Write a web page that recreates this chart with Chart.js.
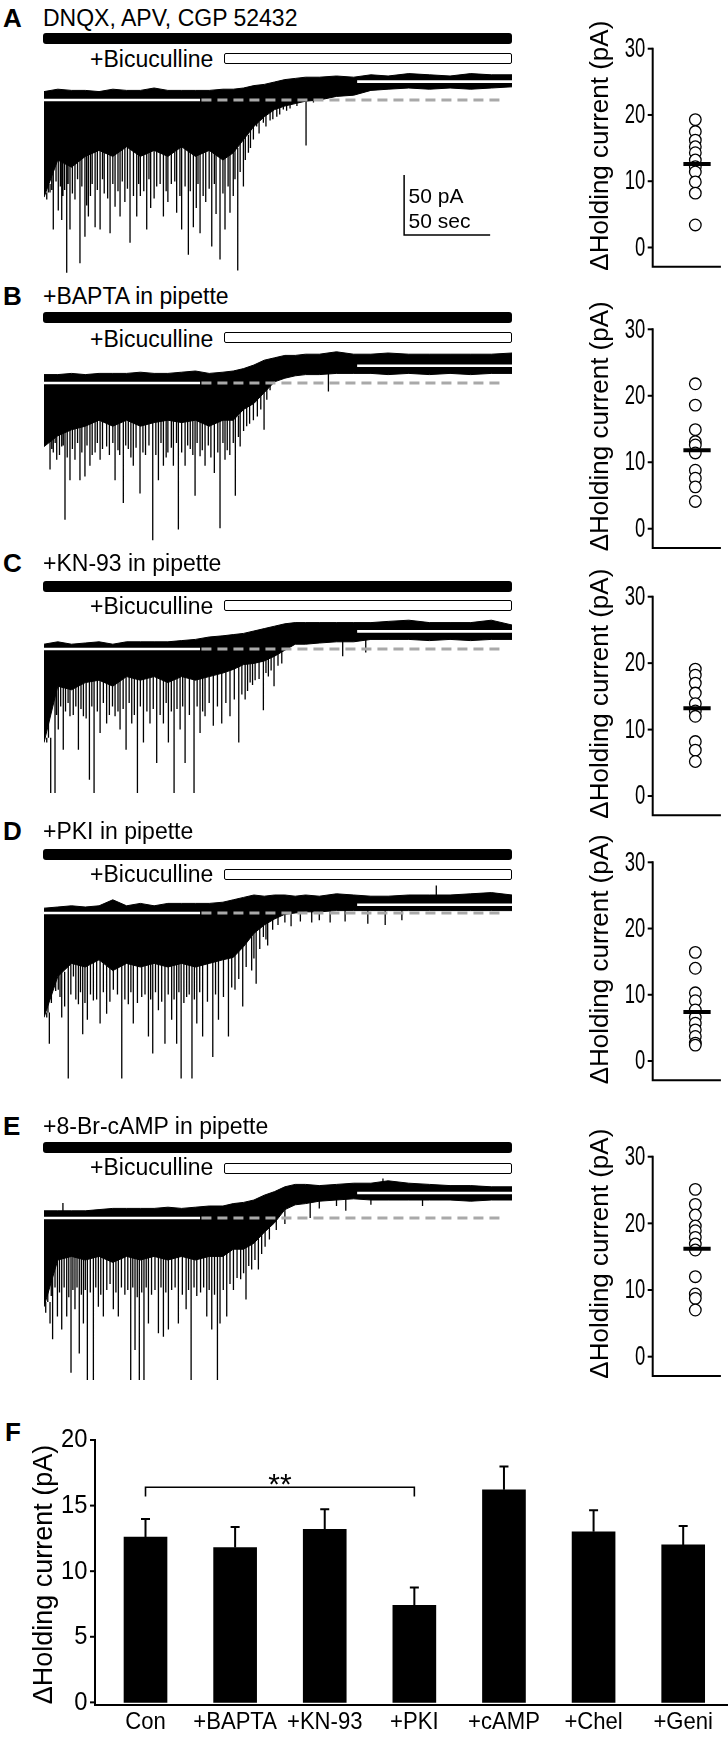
<!DOCTYPE html>
<html><head><meta charset="utf-8">
<script src="https://cdn.jsdelivr.net/npm/chart.js@4.4.1/dist/chart.umd.min.js"></script>
<style>
html,body{margin:0;padding:0;background:#fff;}
body{width:728px;height:1741px;position:relative;overflow:hidden;font-family:"Liberation Sans",Arial,Helvetica,sans-serif;}
.txt{position:absolute;white-space:nowrap;line-height:1;color:#000;}
.bar{position:absolute;box-sizing:border-box;}
canvas{position:absolute;}
</style></head><body>
<script>
// ---------------- DATA ----------------
// time grid (s) for the envelope of each current trace
const traceTime = [0,8,16,24,32,40,48,56,64,72,80,88,96,104,110,116,122,128,134,140,146,152,160,170,180,190,200,212,224,236,248,260,272];
// upper / lower envelope of the dense trace (pA, relative to initial holding current)
const topA = [7,9,8,8,7,9,8,8,10,8,8,8,8,9,9,10,12,13,15,17,18,19,19,20,19,21,20,22,21,20,22,21,21];
const lowA = [-81,-50,-56,-47,-42,-47,-39,-47,-42,-47,-39,-47,-42,-50,-44,-33,-22,-14,-8,-5,-3,-1,0,3,4,8,9,10,9,10,9,10,11];
const topB = [7,7,8,7,8,8,8,9,8,8,9,10,8,9,10,12,15,19,21,23,23,24,24,26,24,24,25,24,24,24,24,24,25];
const lowB = [-53,-44,-39,-36,-31,-36,-31,-36,-33,-31,-33,-31,-36,-31,-31,-22,-17,-8,1,4,6,7,7,8,8,8,7,8,7,8,7,8,8];
const topC = [4,6,4,5,6,4,6,6,6,6,7,8,10,11,12,13,15,17,19,21,22,22,22,22,22,22,23,24,22,22,22,24,20];
const lowC = [-78,-31,-34,-28,-26,-31,-23,-26,-23,-28,-23,-26,-23,-20,-17,-13,-12,-10,-6,-1,4,4,5,6,6,8,8,8,7,8,7,8,8];
const topD = [4,5,6,5,6,11,6,8,6,8,8,8,8,9,11,13,15,14,15,15,14,15,14,16,15,14,14,15,15,15,16,17,15];
const lowD = [-87,-53,-42,-45,-39,-48,-42,-45,-42,-45,-42,-45,-42,-39,-37,-28,-17,-10,-5,-1,0,1,1,2,2,2,2,2,2,2,2,2,2];
const topE = [6,6,6,6,7,8,8,8,8,9,8,9,10,10,12,13,15,19,22,26,28,28,27,28,29,29,31,29,28,27,27,26,26];
const lowE = [-74,-35,-32,-35,-32,-37,-32,-35,-32,-35,-32,-35,-32,-32,-26,-26,-21,-12,-4,7,11,12,14,15,16,15,15,15,15,15,14,15,15];
// individual events [time s, peak pA]
const spikesA = [[1.6,-83],[2.5,-65],[3.5,-70],[4.5,-75],[5.4,-108],[7,-68],[8.3,-92],[9.5,-72],[10.3,-100],[11,-80],[12,-75],[13.2,-144],[14,-70],[15.1,-108],[16.5,-78],[18,-83],[19.5,-66],[20.9,-136],[22,-72],[23.8,-114],[24.8,-88],[25.8,-97],[27,-80],[28,-70],[29.7,-106],[31,-75],[32.6,-108],[34,-66],[35,-78],[37,-82],[38.4,-111],[40,-70],[41.3,-89],[43,-76],[44.2,-97],[45.5,-68],[47,-85],[48.5,-74],[50,-119],[52,-80],[53.9,-97],[55,-70],[56,-80],[58,-76],[59.7,-108],[61,-66],[62,-90],[64,-82],[65.5,-72],[67.5,-70],[69.4,-97],[71,-76],[72,-85],[74,-70],[76,-68],[77.1,-94],[79,-80],[80,-108],[82,-72],[83.9,-129],[85,-76],[86.8,-106],[88.5,-90],[89.5,-70],[90.7,-111],[92.5,-80],[94,-85],[96,-74],[97.5,-122],[99,-70],[100,-95],[102.3,-133],[104,-78],[105.2,-108],[107,-72],[108.1,-94],[110,-80],[111,-66],[112.6,-142],[114,-60],[115.9,-72],[117,-50],[118.8,-44],[120,-40],[121.7,-33],[123.6,-22],[125,-28],[127.5,-19],[129,-22],[131.4,-17],[133,-16],[135.3,-14],[137,-12],[139.1,-8],[141,-9],[143,-7],[147,-5],[152.3,-38],[156.6,-2]];
const spikesB = [[1.6,-50],[2.5,-48],[3.5,-72],[4.5,-55],[5.4,-58],[6.5,-50],[7.4,-64],[9,-60],[10.3,-53],[11.2,-52],[12.2,-114],[13.5,-62],[15.1,-81],[16.5,-55],[18,-64],[19.5,-50],[20.9,-81],[22,-58],[23.8,-78],[25,-52],[26.7,-69],[28,-60],[29.7,-58],[31,-50],[32.6,-64],[34,-55],[36.4,-53],[38,-60],[40,-50],[41.3,-81],[43,-56],[44,-60],[46.1,-100],[47.5,-52],[49,-55],[50.5,-62],[51.9,-69],[53.5,-54],[55.8,-92],[57.5,-58],[59,-60],[61,-52],[63.2,-131],[65,-60],[66.5,-81],[68,-50],[69.4,-69],[71,-62],[72,-58],[74,-54],[75.2,-69],[77,-50],[78.1,-122],[80,-58],[82,-69],[83.5,-52],[85,-55],[86.5,-60],[87.8,-94],[89,-50],[90.7,-61],[92,-56],[93.6,-69],[95.5,-52],[97,-62],[99,-75],[101,-58],[102.3,-121],[104,-50],[105.2,-64],[106.5,-56],[108,-60],[110,-50],[111.2,-94],[113,-45],[114,-53],[116,-40],[117.8,-36],[119.5,-34],[121.7,-31],[124,-28],[126,-22],[127.9,-39],[129.5,-14],[131.4,-6],[165.3,-7]];
const spikesC = [[1.6,-78],[2.6,-50],[3.9,-120],[5,-45],[6.4,-120],[7.3,-55],[8.3,-67],[9.7,-48],[11.2,-84],[12.5,-52],[14,-45],[15.1,-56],[17,-55],[18.5,-48],[20,-84],[21.5,-50],[22.9,-56],[24.5,-58],[26.4,-109],[27.8,-48],[29.1,-120],[31,-52],[32.6,-70],[34.5,-45],[36.4,-62],[38,-55],[39.8,-48],[41.3,-56],[43,-52],[44.2,-67],[46,-50],[47.7,-84],[49.5,-45],[51,-62],[52.5,-55],[54.3,-120],[56,-48],[57.8,-78],[59.8,-52],[61.6,-62],[63.5,-50],[65.5,-95],[67.5,-55],[69.4,-62],[71,-45],[72.3,-78],[74,-52],[75.6,-120],[77.3,-50],[79.1,-67],[80.6,-48],[82,-95],[84.5,-55],[87.2,-120],[89,-48],[90.7,-70],[92.2,-52],[93.6,-56],[96,-45],[98.4,-64],[100.8,-48],[103.3,-62],[105.7,-45],[108.1,-56],[110.6,-42],[113.2,-78],[115,-38],[116.9,-42],[118.3,-35],[119.8,-28],[121.2,-30],[122.7,-26],[125,-25],[127.5,-51],[129,-20],[130.4,-23],[132,-18],[133.7,-31],[136,-14],[138.2,-12],[173.6,-6],[187,-3]];
const spikesD = [[1.6,-87],[2.3,-70],[3.1,-109],[4.3,-75],[5.4,-56],[6.8,-65],[8.3,-64],[9.3,-70],[10.3,-87],[12,-78],[14.1,-138],[15.6,-68],[17.1,-53],[18.5,-72],[20,-76],[21.2,-66],[22.5,-101],[23.8,-75],[25.2,-89],[27,-68],[28.7,-73],[30.6,-72],[32.6,-92],[34.5,-66],[36.4,-84],[38.3,-74],[40.3,-64],[42.7,-68],[45.2,-138],[47,-72],[49,-76],[50.5,-66],[51.9,-92],[54.3,-75],[56.8,-70],[58.7,-68],[60.7,-103],[62,-72],[63.2,-117],[64.8,-66],[66.5,-81],[68.4,-74],[70.3,-109],[72.2,-68],[74.2,-89],[75.6,-72],[77.1,-109],[78.4,-66],[79.7,-138],[81.3,-75],[82.9,-70],[84.4,-68],[86,-138],[87.4,-72],[88.8,-92],[90.5,-66],[92.2,-103],[95,-74],[98.1,-120],[99.7,-68],[101.4,-89],[104.3,-70],[107.2,-103],[109.1,-62],[111,-64],[113.2,-55],[115.5,-78],[117.5,-45],[120.7,-48],[122,-38],[123.3,-59],[125.4,-30],[127.5,-20],[129,-22],[130,-27],[132.9,-14],[136,-10],[140,-8],[143.6,-11],[149,-7],[155.6,-8],[160,-6],[166.3,-8],[175,-7],[188.2,-9],[198.3,-10],[208,-6]];
const spikesE = [[1,-79],[2.2,-60],[3.5,-88],[4.2,-65],[5,-101],[6.4,-58],[7.8,-82],[9,-62],[10.3,-93],[11.7,-58],[13.2,-82],[14.4,-66],[15.7,-129],[16.8,-60],[18,-76],[19.2,-58],[20.5,-113],[21.7,-64],[22.9,-88],[24,-60],[25.2,-135],[26.9,-62],[28.7,-135],[30.1,-58],[31.6,-74],[33,-64],[34.5,-82],[36.5,-60],[38.4,-55],[40.3,-76],[41.8,-62],[43.2,-82],[45,-58],[47,-64],[48.7,-60],[50.4,-135],[51.6,-58],[52.9,-110],[54.2,-66],[55.4,-135],[56.8,-62],[58.1,-135],[59.4,-58],[60.7,-88],[62.5,-64],[64.5,-60],[66.5,-96],[68,-58],[69.4,-99],[70.8,-62],[72.3,-93],[74.2,-60],[76.2,-58],[78.1,-88],[80.4,-64],[82.6,-76],[84,-60],[85.5,-135],[87.2,-58],[88.8,-65],[91,-62],[92.8,-58],[94.6,-82],[96,-60],[97.5,-93],[99.1,-64],[100.8,-135],[102.3,-88],[104.2,-60],[106.2,-82],[108.1,-55],[110.1,-60],[112.2,-50],[114.3,-51],[116,-46],[117.4,-68],[119,-40],[120.7,-43],[122.6,-35],[124.6,-43],[126.5,-30],[128.5,-24],[131,-18],[135,-10],[140,-5],[154.7,0],[160,8],[170,10],[175.4,6],[190,11],[220,10]];
const upSpikesD = [[228,23]];
const upSpikesE = [[11,12.5],[197,33]];
// mean holding current after bicuculline (pA)
const postLevels = [15.3,14.4,14.7,6.9,20.8];
// baseline marker times (s)
const whiteLeftEnd = 90.7, dashStart = 91.5, dashEnd = 266, whiteRightStart = 182;
// scale bar
const scaleBarPA = 50, scaleBarSec = 50;

// scatter values, ΔHolding current (pA)
const scatA = [19.3,17.5,16.2,15.2,14.3,13.2,12.2,11.4,9.9,8.2,3.4];
const scatB = [21.8,18.6,14.9,13.1,12.6,11.4,8.8,7.6,6.3,4.1];
const scatC = [19.1,18.2,17.0,15.5,13.9,12.8,12.0,8.2,6.9,5.2];
const scatD = [16.4,14.0,10.3,9.1,7.7,6.6,5.7,4.7,3.7,2.7,2.4];
const scatE = [25.1,22.85,21.25,19.6,18.9,17.9,16.9,16.0,12.0,9.4,8.75,7.0];
const scatterTicks = [0,10,20,30];

// panel F
const groups = ['Con','+BAPTA','+KN-93','+PKI','+cAMP','+Chel','+Geni'];
const means = [12.6,11.8,13.2,7.4,16.2,13.0,12.0];
const sems = [1.37,1.57,1.53,1.35,1.78,1.65,1.44];
const barTicks = [0,5,10,15,20];
const sigPair = [0,3], sigLevel = 16.4, sigLabel = '**';

// ---------------- LAYOUT ----------------
const FONT = '"Liberation Sans", Arial, Helvetica, sans-serif';
const font = (s,b) => `${b?'bold ':''}${s}px ${FONT}`;
const PX_PER_PA = 1.2, T_END = 272, Y_MIN = -150, Y_MAX = 35;
const panels = [
  {L:'A', title:'DNQX, APV, CGP 52432', textBase:26, black:33, bicBase:67, open:53, base:100, sTop:48.7, sBottom:266.7},
  {L:'B', title:'+BAPTA in pipette', textBase:304, black:312, bicBase:347, open:332, base:383.3, sTop:329.3, sBottom:548},
  {L:'C', title:'+KN-93 in pipette', textBase:571, black:581, bicBase:614, open:600, base:649.3, sTop:596.7, sBottom:815.3},
  {L:'D', title:'+PKI in pipette', textBase:839, black:849, bicBase:882, open:869, base:912.7, sTop:862.3, sBottom:1080.2},
  {L:'E', title:'+8-Br-cAMP in pipette', textBase:1134, black:1142, bicBase:1175, open:1163, base:1218.3, sTop:1156.7, sBottom:1376}
];
const traceData = [
  {top:topA, low:lowA, spikes:spikesA, up:[]},
  {top:topB, low:lowB, spikes:spikesB, up:[]},
  {top:topC, low:lowC, spikes:spikesC, up:[]},
  {top:topD, low:lowD, spikes:spikesD, up:upSpikesD},
  {top:topE, low:lowE, spikes:spikesE, up:upSpikesE}
];
const scatters = [scatA, scatB, scatC, scatD, scatE];

function addText(str, x, baseline, size, bold, sx){
  const d = document.createElement('div'); d.className='txt'; d.textContent=str;
  d.style.fontSize=size+'px'; d.style.fontWeight=bold?'bold':'normal';
  d.style.left=x+'px'; d.style.top=(baseline-0.8465*size)+'px';
  if(sx){ d.style.transform=`scaleX(${sx})`; d.style.transformOrigin='left top'; }
  document.body.appendChild(d);
}
function addBar(x,y,w,h,filled){
  const d=document.createElement('div'); d.className='bar';
  d.style.left=x+'px'; d.style.top=y+'px'; d.style.width=w+'px'; d.style.height=h+'px';
  if(filled){ d.style.background='#000'; d.style.borderRadius='3px'; }
  else { d.style.background='#fff'; d.style.border='1.6px solid #000'; d.style.borderRadius='2px'; }
  document.body.appendChild(d);
}
function makeCanvas(left, top, w, h){
  const c=document.createElement('canvas'); c.width=w; c.height=h;
  c.style.left=left+'px'; c.style.top=top+'px'; c.style.width=w+'px'; c.style.height=h+'px';
  document.body.appendChild(c); return c;
}
function condensedText(ctx, str, x, y, size, sx, align, base){
  ctx.save(); ctx.translate(x,y); ctx.scale(sx,1); ctx.font=font(size);
  ctx.textAlign=align; ctx.textBaseline=base||'middle'; ctx.fillStyle='#000'; ctx.fillText(str,0,0); ctx.restore();
}
const baseOpts = {responsive:false, animation:false, devicePixelRatio:1, events:[],
  plugins:{legend:{display:false}, tooltip:{enabled:false}}};

// scale bar plugin (panel A)
const scaleBarPlugin = {id:'scaleBar', afterDraw(chart){
  const {ctx, scales:{x,y}} = chart;
  const t0 = 209.3, p0 = -112.5;
  const x0 = x.getPixelForValue(t0), x1 = x.getPixelForValue(t0+scaleBarSec);
  const y0 = y.getPixelForValue(p0), y1 = y.getPixelForValue(p0+scaleBarPA);
  ctx.save(); ctx.strokeStyle='#000'; ctx.lineWidth=1.5;
  ctx.beginPath(); ctx.moveTo(x0,y1); ctx.lineTo(x0,y0); ctx.lineTo(x1,y0); ctx.stroke();
  ctx.fillStyle='#000'; ctx.font=font(21); ctx.textAlign='left'; ctx.textBaseline='alphabetic';
  ctx.fillText(scaleBarPA+' pA', x0+4.5, y.getPixelForValue(-85.8));
  ctx.fillText(scaleBarSec+' sec', x0+4.5, y.getPixelForValue(-106.7));
  ctx.restore();
}};

function nearestIdx(t){
  let bi=0; traceTime.forEach((tt,i)=>{ if(Math.abs(tt-t)<Math.abs(traceTime[bi]-t)) bi=i; });
  return bi;
}

function traceChart(p, td, post, idx){
  const top = p.base - Y_MAX*PX_PER_PA;
  const h = (Y_MAX-Y_MIN)*PX_PER_PA;
  const c = makeCanvas(44, top, 468, h);
  const spk = [];
  td.spikes.forEach(([t,v])=>{ const a = td.low[nearestIdx(t)]+4; spk.push({x:t,y:a},{x:t,y:v},{x:t,y:null}); });
  td.up.forEach(([t,v])=>{ spk.push({x:t,y:td.top[nearestIdx(t)]-2},{x:t,y:v},{x:t,y:null}); });
  const datasets = [
    {data:traceTime.map((t,i)=>({x:t,y:td.low[i]})), borderColor:'#000', borderWidth:1, fill:false, order:5},
    {data:traceTime.map((t,i)=>({x:t,y:td.top[i]})), borderColor:'#000', borderWidth:1, fill:'-1', backgroundColor:'#000', order:4},
    {data:spk, borderColor:'#000', borderWidth:1.3, fill:false, spanGaps:false, order:3},
    {data:[{x:dashStart,y:0},{x:dashEnd,y:0}], borderColor:'#a9a9a9', borderWidth:3, borderDash:[10,6], fill:false, order:1},
    {data:[{x:0,y:0},{x:whiteLeftEnd,y:0}], borderColor:'#fff', borderWidth:2.6, fill:false, order:0},
    {data:[{x:whiteRightStart,y:post},{x:T_END,y:post}], borderColor:'#fff', borderWidth:2.6, fill:false, order:0}
  ];
  new Chart(c, {type:'line', data:{datasets},
    options:Object.assign({}, baseOpts, {
      layout:{padding:0},
      elements:{point:{radius:0}, line:{tension:0, borderCapStyle:'butt'}},
      scales:{x:{type:'linear', min:0, max:T_END, display:false}, y:{type:'linear', min:Y_MIN, max:Y_MAX, display:false}}
    }),
    plugins: idx===0 ? [scaleBarPlugin] : []
  });
}

const scatterAxes = {id:'scatterAxes', afterDraw(chart){
  const {ctx, chartArea:a, scales:{y}} = chart;
  ctx.save(); ctx.strokeStyle='#000'; ctx.lineWidth=2; ctx.lineCap='butt';
  ctx.beginPath(); ctx.moveTo(a.left, y.getPixelForValue(30)-1); ctx.lineTo(a.left, a.bottom); ctx.lineTo(a.right, a.bottom); ctx.stroke();
  scatterTicks.forEach(v=>{
    const yy=y.getPixelForValue(v);
    ctx.beginPath(); ctx.moveTo(a.left-5, yy); ctx.lineTo(a.left, yy); ctx.stroke();
    condensedText(ctx, String(v), a.left-7.5, yy+0.5, 28, 0.66, 'right');
  });
  ctx.translate(a.left-52, y.getPixelForValue(30)+97); ctx.rotate(-Math.PI/2);
  ctx.font=font(26); ctx.textAlign='center'; ctx.textBaseline='middle'; ctx.fillStyle='#000';
  ctx.fillText('\u0394Holding current (pA)',0,0);
  ctx.restore();
}};

function scatterChart(p, vals, mean){
  const cTop = Math.floor(p.sTop - 46), cH = Math.ceil(p.sBottom + 8 - cTop);
  const c = makeCanvas(560, cTop, 168, cH);
  new Chart(c, {type:'scatter',
    data:{datasets:[
      {type:'line', data:[{x:0.72,y:mean},{x:1.36,y:mean}], borderColor:'#000', borderWidth:4, pointRadius:0, fill:false, order:0},
      {data:vals.map(v=>({x:1,y:v})), pointRadius:5.8, pointBorderWidth:1.3, pointBackgroundColor:'#fff', pointBorderColor:'#000', order:1}
    ]},
    options:Object.assign({}, baseOpts, {
      layout:{padding:{left:652.7-560, right:0, top:p.sTop-cTop, bottom:cTop+cH-p.sBottom}},
      scales:{x:{type:'linear', min:0, max:1.6, display:false}, y:{type:'linear', min:-2.9, max:30, display:false}}
    }),
    plugins:[scatterAxes]
  });
}

// ---------- build panels A-E ----------
panels.forEach((p,i)=>{
  addText(p.L, 3, p.textBase+1, 26, true);
  addText(p.title, 43, p.textBase, 23, false);
  addBar(43, p.black, 469, 11, true);
  addText('+Bicuculline', 90, p.bicBase, 23, false);
  addBar(224, p.open, 288, 10.5, false);
  traceChart(p, traceData[i], postLevels[i], i);
  scatterChart(p, scatters[i], means[i]);
});

// ---------- panel F ----------
addText('F', 5, 1441, 26, true);
const fTop = 1400;
const cF = makeCanvas(0, fTop, 728, 341);
const fPlugin = {id:'fAxes', afterDatasetsDraw(chart){
  const {ctx, chartArea:a, scales:{x,y}} = chart;
  ctx.save(); ctx.strokeStyle='#000'; ctx.fillStyle='#000'; ctx.lineWidth=2; ctx.lineCap='butt';
  // error bars
  means.forEach((m,i)=>{
    const xx=x.getPixelForValue(i), y0=y.getPixelForValue(m), y1=y.getPixelForValue(m+sems[i]);
    ctx.beginPath(); ctx.moveTo(xx,y0); ctx.lineTo(xx,y1); ctx.moveTo(xx-4.5,y1); ctx.lineTo(xx+4.5,y1); ctx.stroke();
  });
  // axes
  const ax = a.left-5.7;
  ctx.beginPath(); ctx.moveTo(ax, y.getPixelForValue(20)-1); ctx.lineTo(ax, a.bottom); ctx.lineTo(a.right, a.bottom); ctx.stroke();
  barTicks.forEach(v=>{
    const yy=y.getPixelForValue(v);
    ctx.beginPath(); ctx.moveTo(ax-5,yy); ctx.lineTo(ax,yy); ctx.stroke();
    condensedText(ctx, String(v), ax-7.5, yy+0.5, 25, 0.95, 'right');
  });
  groups.forEach((g,i)=>condensedText(ctx, g, x.getPixelForValue(i), a.bottom+24, 24, 0.92, 'center', 'alphabetic'));
  // significance bracket
  const xa=x.getPixelForValue(sigPair[0]), xb=x.getPixelForValue(sigPair[1]);
  const ys=y.getPixelForValue(sigLevel), yl=y.getPixelForValue(sigLevel-0.7);
  ctx.lineWidth=1.6;
  ctx.beginPath(); ctx.moveTo(xa,yl); ctx.lineTo(xa,ys); ctx.lineTo(xb,ys); ctx.lineTo(xb,yl); ctx.stroke();
  ctx.font=font(30); ctx.textAlign='center'; ctx.textBaseline='alphabetic';
  ctx.fillText(sigLabel, (xa+xb)/2, ys+6.5);
  // y title
  ctx.translate(45, (y.getPixelForValue(20)+a.bottom)/2+2); ctx.rotate(-Math.PI/2);
  ctx.font=font(27); ctx.textBaseline='middle'; ctx.fillText('\u0394Holding current (pA)',0,0);
  ctx.restore();
}};
new Chart(cF, {type:'bar',
  data:{labels:groups, datasets:[{data:means, backgroundColor:'#000', borderWidth:0, barThickness:43}]},
  options:Object.assign({}, baseOpts, {
    layout:{padding:{left:100.7, right:0, top:40, bottom:36}},
    scales:{x:{display:false}, y:{min:-0.2, max:20, display:false}}
  }),
  plugins:[fPlugin]
});
</script>
</body></html>
